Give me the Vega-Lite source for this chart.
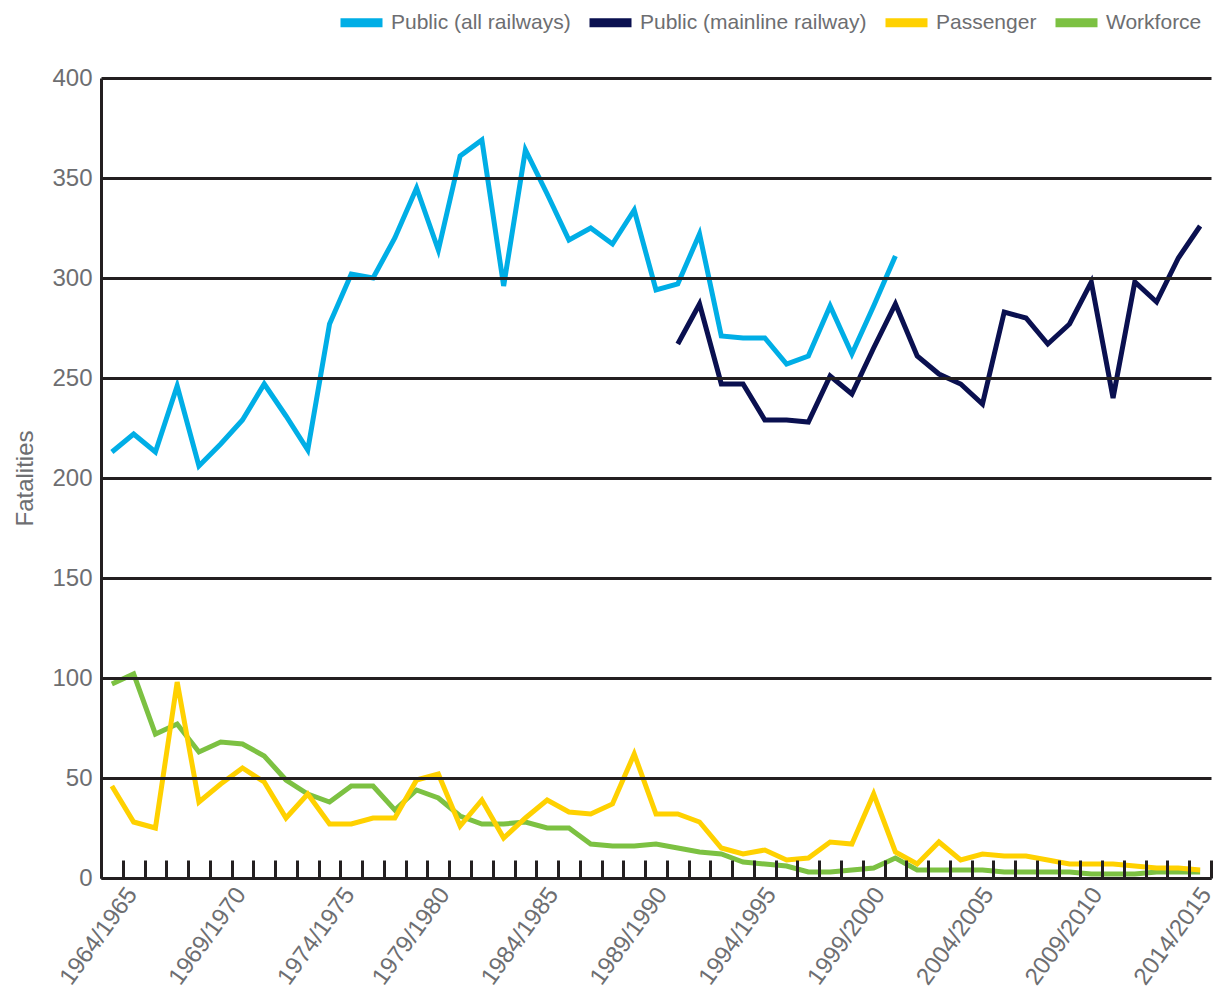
{
  "$schema": "https://vega.github.io/schema/vega-lite/v6.json",
  "width": 1110,
  "height": 800,
  "autosize": "none",
  "padding": {"left": 101, "top": 78, "right": 6, "bottom": 121},
  "background": "white",
  "config": {"view": {"stroke": null}, "font": "Liberation Sans"},
  "data": {"values": [
    {"year": "1964/1965", "series": "Public (all railways)", "fatalities": 213},
    {"year": "1965/1966", "series": "Public (all railways)", "fatalities": 222},
    {"year": "1966/1967", "series": "Public (all railways)", "fatalities": 213},
    {"year": "1967/1968", "series": "Public (all railways)", "fatalities": 246},
    {"year": "1968/1969", "series": "Public (all railways)", "fatalities": 206},
    {"year": "1969/1970", "series": "Public (all railways)", "fatalities": 217},
    {"year": "1970/1971", "series": "Public (all railways)", "fatalities": 229},
    {"year": "1971/1972", "series": "Public (all railways)", "fatalities": 247},
    {"year": "1972/1973", "series": "Public (all railways)", "fatalities": 231},
    {"year": "1973/1974", "series": "Public (all railways)", "fatalities": 214},
    {"year": "1974/1975", "series": "Public (all railways)", "fatalities": 277},
    {"year": "1975/1976", "series": "Public (all railways)", "fatalities": 302},
    {"year": "1976/1977", "series": "Public (all railways)", "fatalities": 300},
    {"year": "1977/1978", "series": "Public (all railways)", "fatalities": 320},
    {"year": "1978/1979", "series": "Public (all railways)", "fatalities": 345},
    {"year": "1979/1980", "series": "Public (all railways)", "fatalities": 314},
    {"year": "1980/1981", "series": "Public (all railways)", "fatalities": 361},
    {"year": "1981/1982", "series": "Public (all railways)", "fatalities": 369},
    {"year": "1982/1983", "series": "Public (all railways)", "fatalities": 296},
    {"year": "1983/1984", "series": "Public (all railways)", "fatalities": 364},
    {"year": "1984/1985", "series": "Public (all railways)", "fatalities": 342},
    {"year": "1985/1986", "series": "Public (all railways)", "fatalities": 319},
    {"year": "1986/1987", "series": "Public (all railways)", "fatalities": 325},
    {"year": "1987/1988", "series": "Public (all railways)", "fatalities": 317},
    {"year": "1988/1989", "series": "Public (all railways)", "fatalities": 334},
    {"year": "1989/1990", "series": "Public (all railways)", "fatalities": 294},
    {"year": "1990/1991", "series": "Public (all railways)", "fatalities": 297},
    {"year": "1991/1992", "series": "Public (all railways)", "fatalities": 322},
    {"year": "1992/1993", "series": "Public (all railways)", "fatalities": 271},
    {"year": "1993/1994", "series": "Public (all railways)", "fatalities": 270},
    {"year": "1994/1995", "series": "Public (all railways)", "fatalities": 270},
    {"year": "1995/1996", "series": "Public (all railways)", "fatalities": 257},
    {"year": "1996/1997", "series": "Public (all railways)", "fatalities": 261},
    {"year": "1997/1998", "series": "Public (all railways)", "fatalities": 286},
    {"year": "1998/1999", "series": "Public (all railways)", "fatalities": 262},
    {"year": "1999/2000", "series": "Public (all railways)", "fatalities": 286},
    {"year": "2000/2001", "series": "Public (all railways)", "fatalities": 311},
    {"year": "1990/1991", "series": "Public (mainline railway)", "fatalities": 267},
    {"year": "1991/1992", "series": "Public (mainline railway)", "fatalities": 287},
    {"year": "1992/1993", "series": "Public (mainline railway)", "fatalities": 247},
    {"year": "1993/1994", "series": "Public (mainline railway)", "fatalities": 247},
    {"year": "1994/1995", "series": "Public (mainline railway)", "fatalities": 229},
    {"year": "1995/1996", "series": "Public (mainline railway)", "fatalities": 229},
    {"year": "1996/1997", "series": "Public (mainline railway)", "fatalities": 228},
    {"year": "1997/1998", "series": "Public (mainline railway)", "fatalities": 251},
    {"year": "1998/1999", "series": "Public (mainline railway)", "fatalities": 242},
    {"year": "1999/2000", "series": "Public (mainline railway)", "fatalities": 265},
    {"year": "2000/2001", "series": "Public (mainline railway)", "fatalities": 287},
    {"year": "2001/2002", "series": "Public (mainline railway)", "fatalities": 261},
    {"year": "2002/2003", "series": "Public (mainline railway)", "fatalities": 252},
    {"year": "2003/2004", "series": "Public (mainline railway)", "fatalities": 247},
    {"year": "2004/2005", "series": "Public (mainline railway)", "fatalities": 237},
    {"year": "2005/2006", "series": "Public (mainline railway)", "fatalities": 283},
    {"year": "2006/2007", "series": "Public (mainline railway)", "fatalities": 280},
    {"year": "2007/2008", "series": "Public (mainline railway)", "fatalities": 267},
    {"year": "2008/2009", "series": "Public (mainline railway)", "fatalities": 277},
    {"year": "2009/2010", "series": "Public (mainline railway)", "fatalities": 298},
    {"year": "2010/2011", "series": "Public (mainline railway)", "fatalities": 240},
    {"year": "2011/2012", "series": "Public (mainline railway)", "fatalities": 298},
    {"year": "2012/2013", "series": "Public (mainline railway)", "fatalities": 288},
    {"year": "2013/2014", "series": "Public (mainline railway)", "fatalities": 310},
    {"year": "2014/2015", "series": "Public (mainline railway)", "fatalities": 326},
    {"year": "1964/1965", "series": "Workforce", "fatalities": 97},
    {"year": "1965/1966", "series": "Workforce", "fatalities": 102},
    {"year": "1966/1967", "series": "Workforce", "fatalities": 72},
    {"year": "1967/1968", "series": "Workforce", "fatalities": 77},
    {"year": "1968/1969", "series": "Workforce", "fatalities": 63},
    {"year": "1969/1970", "series": "Workforce", "fatalities": 68},
    {"year": "1970/1971", "series": "Workforce", "fatalities": 67},
    {"year": "1971/1972", "series": "Workforce", "fatalities": 61},
    {"year": "1972/1973", "series": "Workforce", "fatalities": 49},
    {"year": "1973/1974", "series": "Workforce", "fatalities": 42},
    {"year": "1974/1975", "series": "Workforce", "fatalities": 38},
    {"year": "1975/1976", "series": "Workforce", "fatalities": 46},
    {"year": "1976/1977", "series": "Workforce", "fatalities": 46},
    {"year": "1977/1978", "series": "Workforce", "fatalities": 34},
    {"year": "1978/1979", "series": "Workforce", "fatalities": 44},
    {"year": "1979/1980", "series": "Workforce", "fatalities": 40},
    {"year": "1980/1981", "series": "Workforce", "fatalities": 31},
    {"year": "1981/1982", "series": "Workforce", "fatalities": 27},
    {"year": "1982/1983", "series": "Workforce", "fatalities": 27},
    {"year": "1983/1984", "series": "Workforce", "fatalities": 28},
    {"year": "1984/1985", "series": "Workforce", "fatalities": 25},
    {"year": "1985/1986", "series": "Workforce", "fatalities": 25},
    {"year": "1986/1987", "series": "Workforce", "fatalities": 17},
    {"year": "1987/1988", "series": "Workforce", "fatalities": 16},
    {"year": "1988/1989", "series": "Workforce", "fatalities": 16},
    {"year": "1989/1990", "series": "Workforce", "fatalities": 17},
    {"year": "1990/1991", "series": "Workforce", "fatalities": 15},
    {"year": "1991/1992", "series": "Workforce", "fatalities": 13},
    {"year": "1992/1993", "series": "Workforce", "fatalities": 12},
    {"year": "1993/1994", "series": "Workforce", "fatalities": 8},
    {"year": "1994/1995", "series": "Workforce", "fatalities": 7},
    {"year": "1995/1996", "series": "Workforce", "fatalities": 6},
    {"year": "1996/1997", "series": "Workforce", "fatalities": 3},
    {"year": "1997/1998", "series": "Workforce", "fatalities": 3},
    {"year": "1998/1999", "series": "Workforce", "fatalities": 4},
    {"year": "1999/2000", "series": "Workforce", "fatalities": 5},
    {"year": "2000/2001", "series": "Workforce", "fatalities": 10},
    {"year": "2001/2002", "series": "Workforce", "fatalities": 4},
    {"year": "2002/2003", "series": "Workforce", "fatalities": 4},
    {"year": "2003/2004", "series": "Workforce", "fatalities": 4},
    {"year": "2004/2005", "series": "Workforce", "fatalities": 4},
    {"year": "2005/2006", "series": "Workforce", "fatalities": 3},
    {"year": "2006/2007", "series": "Workforce", "fatalities": 3},
    {"year": "2007/2008", "series": "Workforce", "fatalities": 3},
    {"year": "2008/2009", "series": "Workforce", "fatalities": 3},
    {"year": "2009/2010", "series": "Workforce", "fatalities": 2},
    {"year": "2010/2011", "series": "Workforce", "fatalities": 2},
    {"year": "2011/2012", "series": "Workforce", "fatalities": 2},
    {"year": "2012/2013", "series": "Workforce", "fatalities": 3},
    {"year": "2013/2014", "series": "Workforce", "fatalities": 3},
    {"year": "2014/2015", "series": "Workforce", "fatalities": 3},
    {"year": "1964/1965", "series": "Passenger", "fatalities": 46},
    {"year": "1965/1966", "series": "Passenger", "fatalities": 28},
    {"year": "1966/1967", "series": "Passenger", "fatalities": 25},
    {"year": "1967/1968", "series": "Passenger", "fatalities": 98},
    {"year": "1968/1969", "series": "Passenger", "fatalities": 38},
    {"year": "1969/1970", "series": "Passenger", "fatalities": 47},
    {"year": "1970/1971", "series": "Passenger", "fatalities": 55},
    {"year": "1971/1972", "series": "Passenger", "fatalities": 48},
    {"year": "1972/1973", "series": "Passenger", "fatalities": 30},
    {"year": "1973/1974", "series": "Passenger", "fatalities": 42},
    {"year": "1974/1975", "series": "Passenger", "fatalities": 27},
    {"year": "1975/1976", "series": "Passenger", "fatalities": 27},
    {"year": "1976/1977", "series": "Passenger", "fatalities": 30},
    {"year": "1977/1978", "series": "Passenger", "fatalities": 30},
    {"year": "1978/1979", "series": "Passenger", "fatalities": 49},
    {"year": "1979/1980", "series": "Passenger", "fatalities": 52},
    {"year": "1980/1981", "series": "Passenger", "fatalities": 26},
    {"year": "1981/1982", "series": "Passenger", "fatalities": 39},
    {"year": "1982/1983", "series": "Passenger", "fatalities": 20},
    {"year": "1983/1984", "series": "Passenger", "fatalities": 30},
    {"year": "1984/1985", "series": "Passenger", "fatalities": 39},
    {"year": "1985/1986", "series": "Passenger", "fatalities": 33},
    {"year": "1986/1987", "series": "Passenger", "fatalities": 32},
    {"year": "1987/1988", "series": "Passenger", "fatalities": 37},
    {"year": "1988/1989", "series": "Passenger", "fatalities": 62},
    {"year": "1989/1990", "series": "Passenger", "fatalities": 32},
    {"year": "1990/1991", "series": "Passenger", "fatalities": 32},
    {"year": "1991/1992", "series": "Passenger", "fatalities": 28},
    {"year": "1992/1993", "series": "Passenger", "fatalities": 15},
    {"year": "1993/1994", "series": "Passenger", "fatalities": 12},
    {"year": "1994/1995", "series": "Passenger", "fatalities": 14},
    {"year": "1995/1996", "series": "Passenger", "fatalities": 9},
    {"year": "1996/1997", "series": "Passenger", "fatalities": 10},
    {"year": "1997/1998", "series": "Passenger", "fatalities": 18},
    {"year": "1998/1999", "series": "Passenger", "fatalities": 17},
    {"year": "1999/2000", "series": "Passenger", "fatalities": 42},
    {"year": "2000/2001", "series": "Passenger", "fatalities": 13},
    {"year": "2001/2002", "series": "Passenger", "fatalities": 7},
    {"year": "2002/2003", "series": "Passenger", "fatalities": 18},
    {"year": "2003/2004", "series": "Passenger", "fatalities": 9},
    {"year": "2004/2005", "series": "Passenger", "fatalities": 12},
    {"year": "2005/2006", "series": "Passenger", "fatalities": 11},
    {"year": "2006/2007", "series": "Passenger", "fatalities": 11},
    {"year": "2007/2008", "series": "Passenger", "fatalities": 9},
    {"year": "2008/2009", "series": "Passenger", "fatalities": 7},
    {"year": "2009/2010", "series": "Passenger", "fatalities": 7},
    {"year": "2010/2011", "series": "Passenger", "fatalities": 7},
    {"year": "2011/2012", "series": "Passenger", "fatalities": 6},
    {"year": "2012/2013", "series": "Passenger", "fatalities": 5},
    {"year": "2013/2014", "series": "Passenger", "fatalities": 5},
    {"year": "2014/2015", "series": "Passenger", "fatalities": 4}
  ]},
  "mark": {"type": "line", "strokeWidth": 5},
  "encoding": {
    "x": {
      "field": "year",
      "type": "ordinal",
      "scale": {"type": "band", "paddingInner": 0, "paddingOuter": 0},
      "axis": {
        "title": null,
        "zindex": 1,
        "tickBand": "extent",
        "tickSize": -18,
        "tickWidth": 3,
        "tickColor": "#231f20",
        "domainColor": "#231f20",
        "domainWidth": 3,
        "grid": false,
        "labelAngle": -54,
        "labelAlign": "right",
        "labelBaseline": "middle",
        "labelFont": "Liberation Sans",
        "labelFontSize": 24,
        "labelColor": "#6d6e71",
        "labelPadding": 30,
        "labelOffset": {"condition": {"test": "datum.value < '1975'", "value": 20}, "value": 6},
        "labelOverlap": false,
        "labelExpr": "(toNumber(substring(datum.value, 0, 4)) - 1964) % 5 == 0 ? datum.value : ''"
      }
    },
    "y": {
      "field": "fatalities",
      "type": "quantitative",
      "scale": {"domain": [0, 400], "nice": false},
      "axis": {
        "title": "Fatalities",
        "zindex": 1,
        "values": [0, 50, 100, 150, 200, 250, 300, 350, 400],
        "grid": true,
        "gridColor": "#231f20",
        "gridWidth": 3,
        "gridOpacity": 1,
        "ticks": false,
        "domain": true,
        "domainColor": "#231f20",
        "domainWidth": 3,
        "labelFont": "Liberation Sans",
        "labelFontSize": 24,
        "labelColor": "#6d6e71",
        "labelPadding": 9,
        "titleFont": "Liberation Sans",
        "titleFontSize": 24,
        "titleFontWeight": "normal",
        "titleColor": "#6d6e71",
        "titleX": -76,
        "titleY": 400,
        "titleAngle": -90,
        "titleAlign": "center",
        "titleBaseline": "middle"
      }
    },
    "color": {
      "field": "series",
      "type": "nominal",
      "scale": {
        "domain": ["Public (all railways)", "Public (mainline railway)", "Passenger", "Workforce"],
        "range": ["#00aee6", "#0a1050", "#ffd100", "#7cc142"]
      },
      "legend": {
        "orient": "none",
        "legendX": 235,
        "legendY": -81,
        "direction": "horizontal",
        "title": null,
        "symbolType": "stroke",
        "symbolSize": 1764,
        "symbolStrokeWidth": 9,
        "labelFont": "Liberation Sans",
        "labelFontSize": 21,
        "labelColor": "#6d6e71",
        "labelOffset": 4,
        "labelLimit": 400,
        "columnPadding": 0
      }
    }
  }
}
